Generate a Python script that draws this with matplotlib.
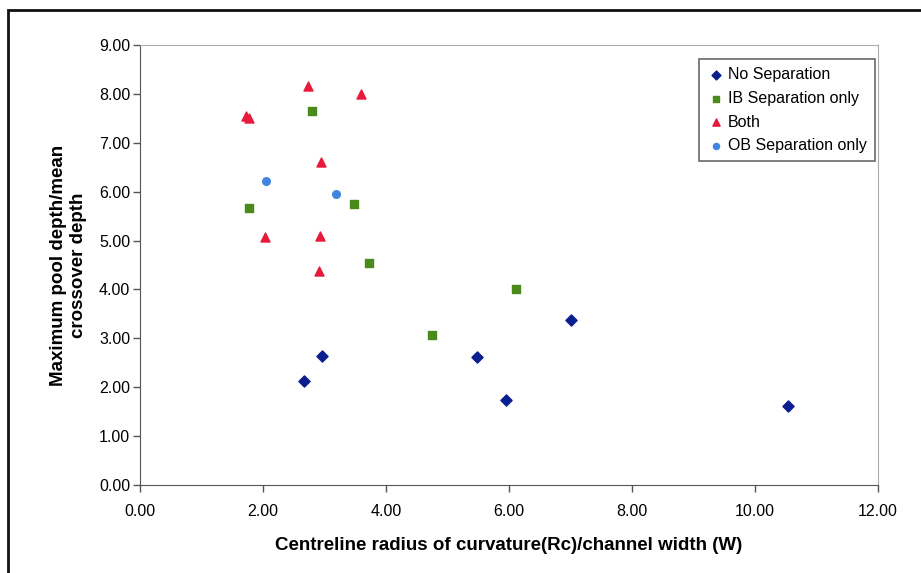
import matplotlib
matplotlib.use('Agg')
import matplotlib.pyplot as plt
from matplotlib.patches import Rectangle

plt.rcParams['font.family'] = ['Liberation Sans', 'DejaVu Sans']

# Rc/W and pool depth ratio, per separation class
no_sep_x = [2.67, 2.96, 5.48, 5.95, 7.01, 10.54]
no_sep_y = [2.13, 2.64, 2.62, 1.74, 3.37, 1.62]

ib_x = [2.80, 1.77, 3.48, 3.72, 4.75, 6.11]
ib_y = [7.65, 5.66, 5.75, 4.54, 3.07, 4.01]

both_x = [2.73, 3.59, 1.72, 1.77, 2.94, 2.03, 2.93, 2.91]
both_y = [8.16, 8.00, 7.55, 7.50, 6.61, 5.07, 5.09, 4.38]

ob_x = [2.05, 3.19]
ob_y = [6.22, 5.95]

x_ticks = [0, 2, 4, 6, 8, 10, 12]
y_ticks = [0, 1, 2, 3, 4, 5, 6, 7, 8, 9]

fig = plt.figure(figsize=(9.21, 5.73), dpi=100)
ax = fig.add_axes([0.152, 0.1536, 0.801, 0.768])

ax.scatter(no_sep_x, no_sep_y, marker='D', s=32, color='#0a1f8f', label='No Separation', zorder=3)
ax.scatter(ib_x, ib_y, marker='s', s=30, color='#4a8a1c', label='IB Separation only', zorder=3)
ax.scatter(both_x, both_y, marker='^', s=42, color='#e8193a', label='Both', zorder=3)
ax.scatter(ob_x, ob_y, marker='o', s=30, color='#3f86de', label='OB Separation only', zorder=3)

ax.set_xlim(0, 12)
ax.set_ylim(0, 9)
ax.set_xticks(x_ticks)
ax.set_yticks(y_ticks)
ax.set_xticklabels(['%.2f' % v for v in x_ticks], fontsize=11.5)
ax.set_yticklabels(['%.2f' % v for v in y_ticks], fontsize=11.5)
ax.tick_params(direction='out', length=5, width=1, color='#555555')
ax.tick_params(axis='x', pad=9)
ax.tick_params(axis='y', pad=2)

for side in ['top', 'right']:
    ax.spines[side].set_color('#aaaaaa')
for side in ['left', 'bottom']:
    ax.spines[side].set_color('#555555')

ax.set_xlabel('Centreline radius of curvature(Rc)/channel width (W)', fontsize=13.5,
              fontweight='bold', labelpad=13)
ax.set_ylabel('Maximum pool depth/mean\ncrossover depth', fontsize=13.5,
              fontweight='bold', labelpad=9)

leg = ax.legend(loc='upper right', bbox_to_anchor=(1.0, 0.975), fontsize=11.5,
                frameon=True, fancybox=False, handletextpad=0.1, handlelength=1.2,
                borderpad=0.5, labelspacing=0.55, scatterpoints=1, markerscale=0.8,
                borderaxespad=0.2)
leg.get_frame().set_edgecolor('#444444')
leg.get_frame().set_linewidth(1.2)

# outer frame
fig.patches.append(Rectangle((8 / 921, -0.05), 1.1, 1.05 - 10 / 573,
                             transform=fig.transFigure, fill=False,
                             edgecolor='#111111', linewidth=2))

fig.savefig('out.png', dpi=100)
